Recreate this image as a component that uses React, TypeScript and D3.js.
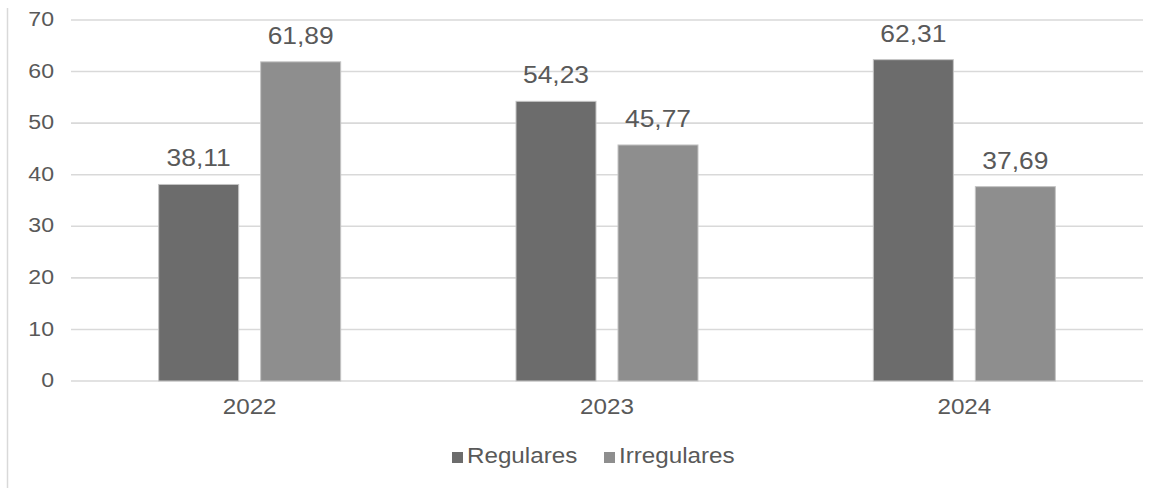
import React from "react";
import * as d3 from "d3";

const years = ["2022", "2023", "2024"];
const seriesNames = ["Regulares", "Irregulares"];
const regulares = [38.11, 54.23, 62.31];
const irregulares = [61.89, 45.77, 37.69];
const yTicks = [0, 10, 20, 30, 40, 50, 60, 70];
const colors = ["#6c6c6c", "#8e8e8e"];

const W = 1162;
const H = 488;
const FONT = "'Liberation Sans', Arial, Helvetica, sans-serif";
const TXT = "#595959";
const SX = 1.1;

const fmt = (v: number) => v.toFixed(2).replace(".", ",");

function SText(props: { x: number; y: number; size: number; anchor: string; children: React.ReactNode; baseline?: string }) {
  const { x, y, size, anchor, children, baseline } = props;
  return (
    <text
      transform={`translate(${x},${y}) scale(${SX},1)`}
      fontSize={size}
      fontFamily={FONT}
      fill={TXT}
      textAnchor={anchor}
      dominantBaseline={baseline}
    >
      {children}
    </text>
  );
}

export default function App() {
  const x0 = d3.scaleBand<string>().domain(years).range([71, 1143]).paddingInner(0).paddingOuter(0);
  const y = d3.scaleLinear().domain([0, 70]).range([381, 20]);
  const groupW = 182;
  const x1 = d3
    .scaleBand<string>()
    .domain(seriesNames)
    .range([0, groupW])
    .paddingInner(22 / 102)
    .paddingOuter(0);
  const data = [regulares, irregulares];

  return (
    <svg width={W} height={H} style={{ position: "absolute", left: 0, top: 0, background: "#fff" }}>
      <rect x={0} y={0} width={W} height={H} fill="#fff" />
      <line x1={7.5} x2={7.5} y1={8} y2={488} stroke="#d9d9d9" strokeWidth={1.5} />
      {yTicks.map((t) => (
        <g key={t}>
          <line x1={71} x2={1143} y1={y(t)} y2={y(t)} stroke="#d9d9d9" strokeWidth={1.6} />
          <SText x={54} y={y(t) - 1} size={21} anchor="end" baseline="central">
            {t}
          </SText>
        </g>
      ))}
      {years.map((yr, i) => {
        const c = (x0(yr) as number) + x0.bandwidth() / 2;
        const gx = c - groupW / 2;
        return (
          <g key={yr}>
            {seriesNames.map((s, j) => {
              const v = data[j][i];
              const bx = gx + (x1(s) as number);
              const bw = x1.bandwidth();
              return (
                <g key={s}>
                  <rect
                    x={bx}
                    y={y(v)}
                    width={bw}
                    height={y(0) - y(v)}
                    fill={colors[j]}
                    stroke="#c4c4c4"
                    strokeWidth={1}
                  />
                  <SText x={bx + bw / 2} y={y(v) - 18} size={24} anchor="middle">
                    {fmt(v)}
                  </SText>
                </g>
              );
            })}
            <SText x={c} y={414} size={22} anchor="middle">
              {yr}
            </SText>
          </g>
        );
      })}
      <g>
        <rect x={452} y={452} width={11} height={11} fill={colors[0]} />
        <SText x={467} y={463} size={22} anchor="start">
          {seriesNames[0]}
        </SText>
        <rect x={604} y={452} width={11} height={11} fill={colors[1]} />
        <SText x={619} y={463} size={22} anchor="start">
          {seriesNames[1]}
        </SText>
      </g>
    </svg>
  );
}
